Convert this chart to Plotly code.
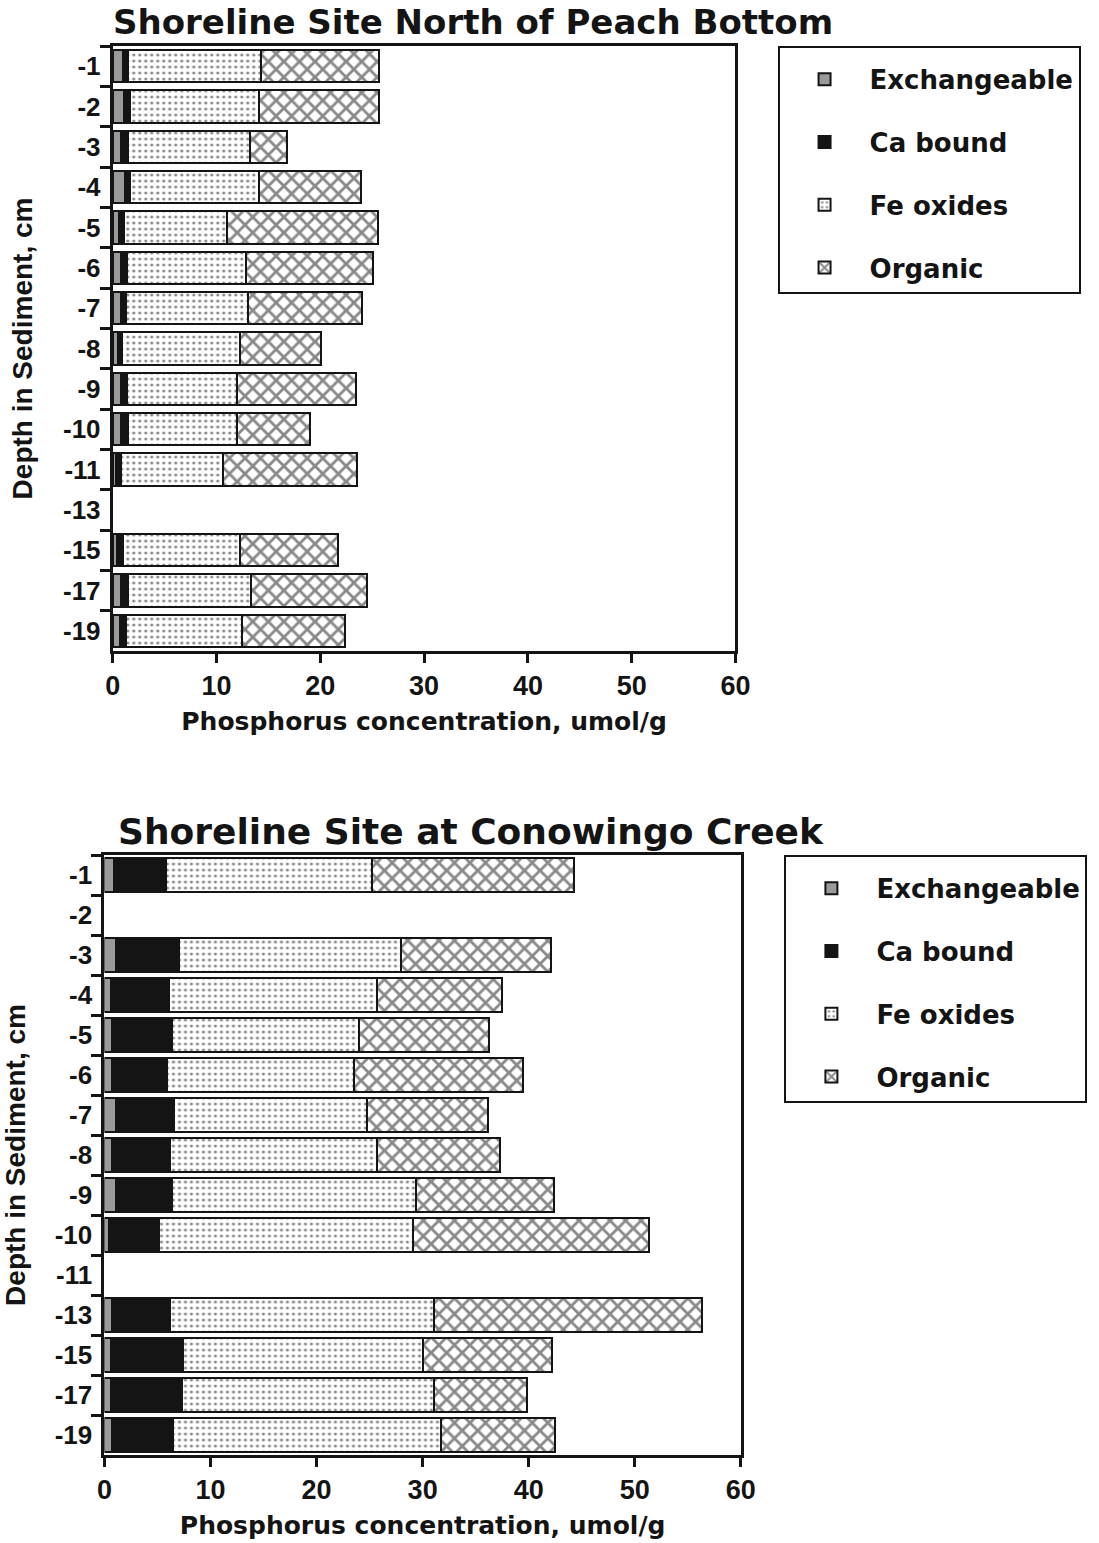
import plotly.graph_objects as go

# ---------------- data ----------------
depths_top = ["-1", "-2", "-3", "-4", "-5", "-6", "-7", "-8", "-9", "-10", "-11", "-13", "-15", "-17", "-19"]
exch_top = [1.0, 1.1, 0.75, 1.15, 0.6, 0.76, 0.76, 0.54, 0.76, 0.76, 0.28, None, 0.44, 0.76, 0.66]
ca_top = [0.5, 0.55, 0.7, 0.55, 0.47, 0.64, 0.56, 0.38, 0.63, 0.69, 0.48, None, 0.54, 0.69, 0.64]
fe_top = [12.8, 12.45, 11.75, 12.4, 9.93, 11.4, 11.68, 11.38, 10.61, 10.55, 9.84, None, 11.32, 11.85, 11.2]
org_top = [11.4, 11.6, 3.6, 9.8, 14.6, 12.3, 11.0, 7.8, 11.4, 7.0, 12.9, None, 9.4, 11.2, 9.9]

depths_bot = ["-1", "-2", "-3", "-4", "-5", "-6", "-7", "-8", "-9", "-10", "-11", "-13", "-15", "-17", "-19"]
exch_bot = [0.9, None, 1.06, 0.6, 0.75, 0.75, 1.06, 0.7, 1.06, 0.45, None, 0.7, 0.6, 0.6, 0.75]
ca_bot = [4.9, None, 6.0, 5.5, 5.65, 5.15, 5.54, 5.5, 5.29, 4.65, None, 5.5, 6.8, 6.7, 5.75]
fe_bot = [19.4, None, 20.94, 19.6, 17.6, 17.6, 18.2, 19.5, 23.05, 24.0, None, 24.9, 22.6, 23.8, 25.2]
org_bot = [19.1, None, 14.1, 11.8, 12.3, 16.0, 11.4, 11.6, 13.0, 22.2, None, 25.2, 12.2, 8.7, 10.8]

fractions = ["Exchangeable", "Ca bound", "Fe oxides", "Organic"]
title_top = "Shoreline Site North of Peach Bottom"
title_bot = "Shoreline Site at Conowingo Creek"
x_title = "Phosphorus concentration, umol/g"
y_title = "Depth in Sediment, cm"

# ---------------- styles ----------------
W, H = 1099, 1543
BLACK = "#141414"
styles = {
    "Exchangeable": dict(color="#9a9a9a", pattern=dict(shape="")),
    "Ca bound": dict(color=BLACK, pattern=dict(shape="")),
    "Fe oxides": dict(color="white", pattern=dict(shape=".", fgcolor=BLACK, bgcolor="white",
                                                  size=6, solidity=0.22, fillmode="overlay")),
    "Organic": dict(color="white", pattern=dict(shape="x", fgcolor=BLACK, bgcolor="white",
                                                size=11, solidity=0.45, fillmode="overlay")),
}
DEJAVU = "DejaVu Sans"
ARIAL = "Arial"

fig = go.Figure()

def add_panel(depths, series, xa, ya, legend, width):
    for name, vals in zip(fractions, series):
        st = styles[name]
        fig.add_trace(go.Bar(
            y=depths, x=vals, name=name, orientation="h",
            xaxis=xa, yaxis=ya, legend=legend, legendgroup=name + legend,
            width=width,
            marker=dict(color=st["color"], pattern=st["pattern"],
                        line=dict(color=BLACK, width=2)),
            hoverinfo="x+y+name",
        ))

add_panel(depths_top, [exch_top, ca_top, fe_top, org_top], "x", "y", "legend", 0.8)
add_panel(depths_bot, [exch_bot, ca_bot, fe_bot, org_bot], "x2", "y2", "legend2", 0.86)

def px_x(p):
    return p / W

def px_y(p):
    return 1 - p / H

xcommon = dict(range=[0, 60], dtick=10, tick0=0, ticks="outside", ticklen=9, tickwidth=3,
               tickcolor=BLACK, showline=True, linewidth=3, linecolor=BLACK, mirror=True,
               showgrid=False, zeroline=False,
               tickfont=dict(family=ARIAL, size=27, color=BLACK, weight="bold"),
               title=dict(text=x_title, standoff=13,
                          font=dict(family=DEJAVU, size=25, color=BLACK, weight="bold")))
ycommon = dict(type="category", autorange="reversed", tickson="boundaries", ticks="outside",
               ticklen=10, tickwidth=3, tickcolor=BLACK, showline=True, linewidth=3,
               linecolor=BLACK, mirror=True, showgrid=False, zeroline=False,
               ticklabelstandoff=4,
               tickfont=dict(family=ARIAL, size=26, color=BLACK, weight="bold"),
               title=dict(text=y_title, standoff=23,
                          font=dict(family=ARIAL, size=28, color=BLACK, weight="bold")))

legend_common = dict(font=dict(family=DEJAVU, size=26, color=BLACK, weight="bold"),
                     bgcolor="white", bordercolor=BLACK, borderwidth=2,
                     xanchor="left", yanchor="top", tracegroupgap=26, itemwidth=80,
                     traceorder="grouped",
                     title=dict(text="&nbsp;", font=dict(size=6)))

fig.update_layout(
    width=W, height=H, margin=dict(l=0, r=0, t=0, b=0),
    paper_bgcolor="white", plot_bgcolor="white",
    barmode="stack",
    xaxis=dict(domain=[px_x(107), px_x(743)], anchor="y", **xcommon),
    yaxis=dict(domain=[px_y(651), px_y(46)], anchor="x", categoryorder="array",
               categoryarray=depths_top, **ycommon),
    xaxis2=dict(domain=[px_x(98.5), px_x(748.5)], anchor="y2", **xcommon),
    yaxis2=dict(domain=[px_y(1455), px_y(855)], anchor="x2", categoryorder="array",
                categoryarray=depths_bot, **ycommon),
    legend=dict(x=px_x(786), y=px_y(46), **legend_common),
    legend2=dict(x=px_x(793), y=px_y(855), **legend_common),
    annotations=[
        dict(text=title_top, x=px_x(475), y=px_y(22), xref="paper", yref="paper",
             showarrow=False, xanchor="center", yanchor="middle",
             font=dict(family=DEJAVU, size=34, color=BLACK, weight="bold")),
        dict(text=title_bot, x=px_x(473), y=px_y(832), xref="paper", yref="paper",
             showarrow=False, xanchor="center", yanchor="middle",
             font=dict(family=DEJAVU, size=36, color=BLACK, weight="bold")),
    ],
)

fig.write_html("out.html")
